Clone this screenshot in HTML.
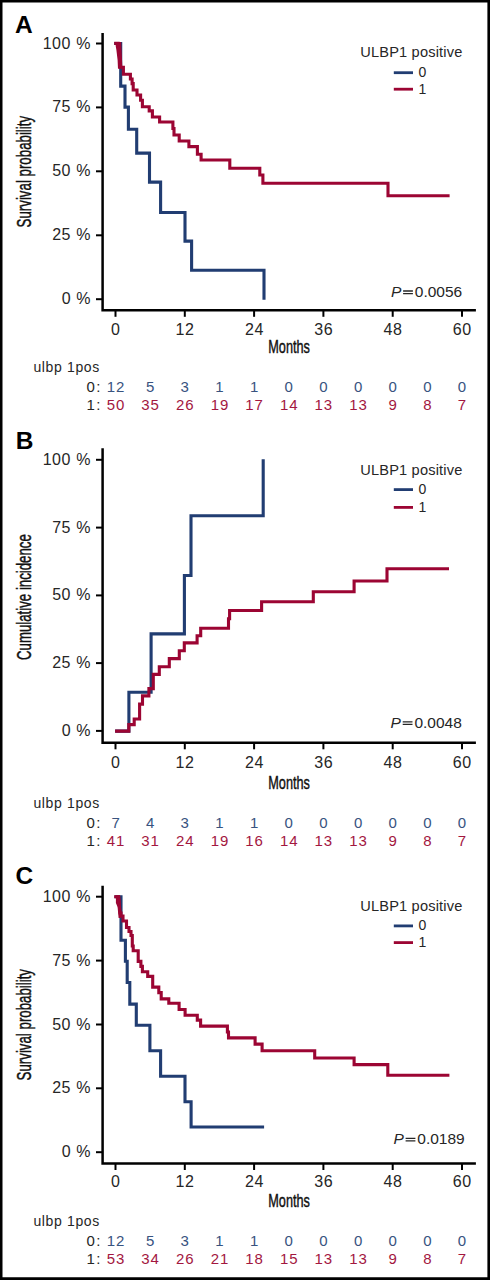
<!DOCTYPE html>
<html><head><meta charset="utf-8"><style>
html,body{margin:0;padding:0;background:#fff;}
svg{display:block;}
text{font-family:"Liberation Sans", sans-serif;}
</style></head><body>
<svg width="490" height="1280" viewBox="0 0 490 1280">
<rect x="0" y="0" width="490" height="1280" fill="#fff"/>
<path d="M0,0 H490 V1280 H0 Z M2.5,2.5 V1277.3 H487.4 V2.5 Z" fill="#000" fill-rule="evenodd"/>
<g id="panelA">
<text x="14.9" y="32.6" font-size="24.5" font-weight="bold" fill="#000">A</text>
<path d="M102.6,33.0 V311.55 M101.35,310.3 H475.9" stroke="#000" stroke-width="2.5" fill="none"/>
<path d="M96,43.5 H102" stroke="#000" stroke-width="2" fill="none"/>
<path d="M96,107.4 H102" stroke="#000" stroke-width="2" fill="none"/>
<path d="M96,171.3 H102" stroke="#000" stroke-width="2" fill="none"/>
<path d="M96,235.3 H102" stroke="#000" stroke-width="2" fill="none"/>
<path d="M96,299.2 H102" stroke="#000" stroke-width="2" fill="none"/>
<path d="M115.5,310.3 V316.8" stroke="#000" stroke-width="2" fill="none"/>
<path d="M184.8,310.3 V316.8" stroke="#000" stroke-width="2" fill="none"/>
<path d="M254.1,310.3 V316.8" stroke="#000" stroke-width="2" fill="none"/>
<path d="M323.4,310.3 V316.8" stroke="#000" stroke-width="2" fill="none"/>
<path d="M392.7,310.3 V316.8" stroke="#000" stroke-width="2" fill="none"/>
<path d="M462.0,310.3 V316.8" stroke="#000" stroke-width="2" fill="none"/>
<text x="91.0" y="48.5" font-size="16" text-anchor="end" fill="#262626" letter-spacing="0.6">100 %</text>
<text x="91.0" y="112.4" font-size="16" text-anchor="end" fill="#262626" letter-spacing="0.6">75 %</text>
<text x="91.0" y="176.3" font-size="16" text-anchor="end" fill="#262626" letter-spacing="0.6">50 %</text>
<text x="91.0" y="240.3" font-size="16" text-anchor="end" fill="#262626" letter-spacing="0.6">25 %</text>
<text x="91.0" y="304.2" font-size="16" text-anchor="end" fill="#262626" letter-spacing="0.6">0 %</text>
<text x="115.8" y="334.5" font-size="16" text-anchor="middle" fill="#262626" letter-spacing="0.6">0</text>
<text x="185.1" y="334.5" font-size="16" text-anchor="middle" fill="#262626" letter-spacing="0.6">12</text>
<text x="254.4" y="334.5" font-size="16" text-anchor="middle" fill="#262626" letter-spacing="0.6">24</text>
<text x="323.7" y="334.5" font-size="16" text-anchor="middle" fill="#262626" letter-spacing="0.6">36</text>
<text x="393.0" y="334.5" font-size="16" text-anchor="middle" fill="#262626" letter-spacing="0.6">48</text>
<text x="462.3" y="334.5" font-size="16" text-anchor="middle" fill="#262626" letter-spacing="0.6">60</text>
<text x="268.3" y="353.0" font-size="19" fill="#111" stroke="#111" stroke-width="0.45" textLength="41.6" lengthAdjust="spacingAndGlyphs">Months</text>
<text transform="translate(30.6,227.4) rotate(-90)" x="0" y="0" font-size="20" fill="#111" stroke="#111" stroke-width="0.45" textLength="111.5" lengthAdjust="spacingAndGlyphs">Survival probability</text>
<text x="360.3" y="56.7" font-size="14.6" fill="#262626" letter-spacing="0.17">ULBP1 positive</text>
<path d="M393.8,72.7 H413" stroke="#213d72" stroke-width="2.8"/>
<path d="M393.8,89.2 H413" stroke="#9c0533" stroke-width="2.8"/>
<text x="418.5" y="77.0" font-size="14" fill="#262626">0</text>
<text x="418.5" y="93.7" font-size="14" fill="#262626">1</text>
<text x="462.2" y="297.1" font-size="15.5" text-anchor="end" fill="#262626">0.0056</text>
<text x="391.0" y="297.1" font-size="15.5" font-style="italic" fill="#262626">P</text>
<path d="M403.1,291.0 H412.9 M403.1,293.6 H412.9" stroke="#262626" stroke-width="1.3"/>
<path d="M114.2,43.5 H120.7 V86.1 H125 V107.1 H128.4 V129.2 H136.7 V153.1 H149.5 V182.1 H160.6 V212.5 H185 V241.1 H191.6 V270.2 H264 V299.7" stroke="#213d72" stroke-width="3.1" fill="none" stroke-linecap="butt" stroke-linejoin="miter"/>
<path d="M114.2,43.4 H118.3 L120.5,67.2 H123.4 V74.2 H130.4 V79 H132.1 V83.6 H133.2 V90 H137 V95 H140.6 V100.3 H142.4 V106.7 H149.2 V110.9 H152.4 V117 H159.6 V122 H172.9 V128.5 H174 V135 H179.2 V141 H188.9 V146.6 H197.4 V154.2 H201.1 V160 H229.8 V168.3 H259.8 V175 H262.9 V183.3 H388 V195.8 H449.6" stroke="#9c0533" stroke-width="3.1" fill="none" stroke-linecap="butt" stroke-linejoin="miter"/>
<polygon points="115.7,42 121.2,42 122.3,66 121.5,68.8 118,68.8 117.6,60 116.4,50 115.7,46" fill="#9c0533"/>
<text x="33.4" y="371.8" font-size="14" fill="#262626" letter-spacing="0.65">ulbp 1pos</text>
<text x="86.6" y="392.4" font-size="15" fill="#262626" letter-spacing="1.2">0:</text>
<text x="86.6" y="409.5" font-size="15" fill="#262626" letter-spacing="1.2">1:</text>
<text x="116.0" y="392.4" font-size="15" text-anchor="middle" fill="#38537f" letter-spacing="0.9">12</text>
<text x="116.0" y="409.5" font-size="15" text-anchor="middle" fill="#a3173f" letter-spacing="0.9">50</text>
<text x="150.6" y="392.4" font-size="15" text-anchor="middle" fill="#38537f" letter-spacing="0.9">5</text>
<text x="150.6" y="409.5" font-size="15" text-anchor="middle" fill="#a3173f" letter-spacing="0.9">35</text>
<text x="185.2" y="392.4" font-size="15" text-anchor="middle" fill="#38537f" letter-spacing="0.9">3</text>
<text x="185.2" y="409.5" font-size="15" text-anchor="middle" fill="#a3173f" letter-spacing="0.9">26</text>
<text x="219.9" y="392.4" font-size="15" text-anchor="middle" fill="#38537f" letter-spacing="0.9">1</text>
<text x="219.9" y="409.5" font-size="15" text-anchor="middle" fill="#a3173f" letter-spacing="0.9">19</text>
<text x="254.6" y="392.4" font-size="15" text-anchor="middle" fill="#38537f" letter-spacing="0.9">1</text>
<text x="254.6" y="409.5" font-size="15" text-anchor="middle" fill="#a3173f" letter-spacing="0.9">17</text>
<text x="289.2" y="392.4" font-size="15" text-anchor="middle" fill="#38537f" letter-spacing="0.9">0</text>
<text x="289.2" y="409.5" font-size="15" text-anchor="middle" fill="#a3173f" letter-spacing="0.9">14</text>
<text x="323.8" y="392.4" font-size="15" text-anchor="middle" fill="#38537f" letter-spacing="0.9">0</text>
<text x="323.8" y="409.5" font-size="15" text-anchor="middle" fill="#a3173f" letter-spacing="0.9">13</text>
<text x="358.5" y="392.4" font-size="15" text-anchor="middle" fill="#38537f" letter-spacing="0.9">0</text>
<text x="358.5" y="409.5" font-size="15" text-anchor="middle" fill="#a3173f" letter-spacing="0.9">13</text>
<text x="393.2" y="392.4" font-size="15" text-anchor="middle" fill="#38537f" letter-spacing="0.9">0</text>
<text x="393.2" y="409.5" font-size="15" text-anchor="middle" fill="#a3173f" letter-spacing="0.9">9</text>
<text x="427.8" y="392.4" font-size="15" text-anchor="middle" fill="#38537f" letter-spacing="0.9">0</text>
<text x="427.8" y="409.5" font-size="15" text-anchor="middle" fill="#a3173f" letter-spacing="0.9">8</text>
<text x="462.4" y="392.4" font-size="15" text-anchor="middle" fill="#38537f" letter-spacing="0.9">0</text>
<text x="462.4" y="409.5" font-size="15" text-anchor="middle" fill="#a3173f" letter-spacing="0.9">7</text>
</g>
<g id="panelB">
<text x="15.7" y="448.7" font-size="24.5" font-weight="bold" fill="#000">B</text>
<path d="M102.6,448.2 V744.05 M101.35,742.8 H475.9" stroke="#000" stroke-width="2.5" fill="none"/>
<path d="M96,459.8 H102" stroke="#000" stroke-width="2" fill="none"/>
<path d="M96,527.6 H102" stroke="#000" stroke-width="2" fill="none"/>
<path d="M96,595.4 H102" stroke="#000" stroke-width="2" fill="none"/>
<path d="M96,663.1 H102" stroke="#000" stroke-width="2" fill="none"/>
<path d="M96,730.9 H102" stroke="#000" stroke-width="2" fill="none"/>
<path d="M115.5,742.8 V749.3" stroke="#000" stroke-width="2" fill="none"/>
<path d="M184.8,742.8 V749.3" stroke="#000" stroke-width="2" fill="none"/>
<path d="M254.1,742.8 V749.3" stroke="#000" stroke-width="2" fill="none"/>
<path d="M323.4,742.8 V749.3" stroke="#000" stroke-width="2" fill="none"/>
<path d="M392.7,742.8 V749.3" stroke="#000" stroke-width="2" fill="none"/>
<path d="M462.0,742.8 V749.3" stroke="#000" stroke-width="2" fill="none"/>
<text x="91.0" y="464.8" font-size="16" text-anchor="end" fill="#262626" letter-spacing="0.6">100 %</text>
<text x="91.0" y="532.6" font-size="16" text-anchor="end" fill="#262626" letter-spacing="0.6">75 %</text>
<text x="91.0" y="600.4" font-size="16" text-anchor="end" fill="#262626" letter-spacing="0.6">50 %</text>
<text x="91.0" y="668.1" font-size="16" text-anchor="end" fill="#262626" letter-spacing="0.6">25 %</text>
<text x="91.0" y="735.9" font-size="16" text-anchor="end" fill="#262626" letter-spacing="0.6">0 %</text>
<text x="115.8" y="768.1" font-size="16" text-anchor="middle" fill="#262626" letter-spacing="0.6">0</text>
<text x="185.1" y="768.1" font-size="16" text-anchor="middle" fill="#262626" letter-spacing="0.6">12</text>
<text x="254.4" y="768.1" font-size="16" text-anchor="middle" fill="#262626" letter-spacing="0.6">24</text>
<text x="323.7" y="768.1" font-size="16" text-anchor="middle" fill="#262626" letter-spacing="0.6">36</text>
<text x="393.0" y="768.1" font-size="16" text-anchor="middle" fill="#262626" letter-spacing="0.6">48</text>
<text x="462.3" y="768.1" font-size="16" text-anchor="middle" fill="#262626" letter-spacing="0.6">60</text>
<text x="268.3" y="789.3" font-size="19" fill="#111" stroke="#111" stroke-width="0.45" textLength="41.6" lengthAdjust="spacingAndGlyphs">Months</text>
<text transform="translate(30.6,660.0) rotate(-90)" x="0" y="0" font-size="20" fill="#111" stroke="#111" stroke-width="0.45" textLength="125.8" lengthAdjust="spacingAndGlyphs">Cumulative incidence</text>
<text x="360.3" y="474.5" font-size="14.6" fill="#262626" letter-spacing="0.17">ULBP1 positive</text>
<path d="M393.8,489.6 H413" stroke="#213d72" stroke-width="2.8"/>
<path d="M393.8,507.4 H413" stroke="#9c0533" stroke-width="2.8"/>
<text x="418.5" y="493.9" font-size="14" fill="#262626">0</text>
<text x="418.5" y="511.9" font-size="14" fill="#262626">1</text>
<text x="461.8" y="727.9" font-size="15.5" text-anchor="end" fill="#262626">0.0048</text>
<text x="390.6" y="727.9" font-size="15.5" font-style="italic" fill="#262626">P</text>
<path d="M402.7,721.8 H412.5 M402.7,724.4 H412.5" stroke="#262626" stroke-width="1.3"/>
<path d="M115.1,731.1 H128.9 V692.3 H151.1 V633.9 H184.4 V575.5 H191 V515.7 H263.2 V459.2" stroke="#213d72" stroke-width="3.1" fill="none" stroke-linecap="butt" stroke-linejoin="miter"/>
<path d="M115.1,731.1 H128.8 V724.6 H134.2 V719 H139.6 V704.1 H142.5 V695.9 H148.9 V688.6 H153.3 V674.4 H159.3 V666.8 H169.3 V658.6 H179.3 V650.7 H184.3 V642.9 H197.1 V635.7 H200.7 V628.3 H228.5 V618.7 H229.6 V610.5 H261.6 V601.7 H313.3 V591.8 H354.1 V581 H387 V568.7 H449" stroke="#9c0533" stroke-width="3.1" fill="none" stroke-linecap="butt" stroke-linejoin="miter"/>
<text x="33.4" y="808.3" font-size="14" fill="#262626" letter-spacing="0.65">ulbp 1pos</text>
<text x="86.6" y="828.1" font-size="15" fill="#262626" letter-spacing="1.2">0:</text>
<text x="86.6" y="846.0" font-size="15" fill="#262626" letter-spacing="1.2">1:</text>
<text x="116.0" y="828.1" font-size="15" text-anchor="middle" fill="#38537f" letter-spacing="0.9">7</text>
<text x="116.0" y="846.0" font-size="15" text-anchor="middle" fill="#a3173f" letter-spacing="0.9">41</text>
<text x="150.6" y="828.1" font-size="15" text-anchor="middle" fill="#38537f" letter-spacing="0.9">4</text>
<text x="150.6" y="846.0" font-size="15" text-anchor="middle" fill="#a3173f" letter-spacing="0.9">31</text>
<text x="185.2" y="828.1" font-size="15" text-anchor="middle" fill="#38537f" letter-spacing="0.9">3</text>
<text x="185.2" y="846.0" font-size="15" text-anchor="middle" fill="#a3173f" letter-spacing="0.9">24</text>
<text x="219.9" y="828.1" font-size="15" text-anchor="middle" fill="#38537f" letter-spacing="0.9">1</text>
<text x="219.9" y="846.0" font-size="15" text-anchor="middle" fill="#a3173f" letter-spacing="0.9">19</text>
<text x="254.6" y="828.1" font-size="15" text-anchor="middle" fill="#38537f" letter-spacing="0.9">1</text>
<text x="254.6" y="846.0" font-size="15" text-anchor="middle" fill="#a3173f" letter-spacing="0.9">16</text>
<text x="289.2" y="828.1" font-size="15" text-anchor="middle" fill="#38537f" letter-spacing="0.9">0</text>
<text x="289.2" y="846.0" font-size="15" text-anchor="middle" fill="#a3173f" letter-spacing="0.9">14</text>
<text x="323.8" y="828.1" font-size="15" text-anchor="middle" fill="#38537f" letter-spacing="0.9">0</text>
<text x="323.8" y="846.0" font-size="15" text-anchor="middle" fill="#a3173f" letter-spacing="0.9">13</text>
<text x="358.5" y="828.1" font-size="15" text-anchor="middle" fill="#38537f" letter-spacing="0.9">0</text>
<text x="358.5" y="846.0" font-size="15" text-anchor="middle" fill="#a3173f" letter-spacing="0.9">13</text>
<text x="393.2" y="828.1" font-size="15" text-anchor="middle" fill="#38537f" letter-spacing="0.9">0</text>
<text x="393.2" y="846.0" font-size="15" text-anchor="middle" fill="#a3173f" letter-spacing="0.9">9</text>
<text x="427.8" y="828.1" font-size="15" text-anchor="middle" fill="#38537f" letter-spacing="0.9">0</text>
<text x="427.8" y="846.0" font-size="15" text-anchor="middle" fill="#a3173f" letter-spacing="0.9">8</text>
<text x="462.4" y="828.1" font-size="15" text-anchor="middle" fill="#38537f" letter-spacing="0.9">0</text>
<text x="462.4" y="846.0" font-size="15" text-anchor="middle" fill="#a3173f" letter-spacing="0.9">7</text>
</g>
<g id="panelC">
<text x="15.5" y="884.4" font-size="24.5" font-weight="bold" fill="#000">C</text>
<path d="M102.6,885.8 V1164.75 M101.35,1163.5 H475.9" stroke="#000" stroke-width="2.5" fill="none"/>
<path d="M96,896.7 H102" stroke="#000" stroke-width="2" fill="none"/>
<path d="M96,960.6 H102" stroke="#000" stroke-width="2" fill="none"/>
<path d="M96,1024.5 H102" stroke="#000" stroke-width="2" fill="none"/>
<path d="M96,1088.3 H102" stroke="#000" stroke-width="2" fill="none"/>
<path d="M96,1152.2 H102" stroke="#000" stroke-width="2" fill="none"/>
<path d="M115.5,1163.5 V1170.0" stroke="#000" stroke-width="2" fill="none"/>
<path d="M184.8,1163.5 V1170.0" stroke="#000" stroke-width="2" fill="none"/>
<path d="M254.1,1163.5 V1170.0" stroke="#000" stroke-width="2" fill="none"/>
<path d="M323.4,1163.5 V1170.0" stroke="#000" stroke-width="2" fill="none"/>
<path d="M392.7,1163.5 V1170.0" stroke="#000" stroke-width="2" fill="none"/>
<path d="M462.0,1163.5 V1170.0" stroke="#000" stroke-width="2" fill="none"/>
<text x="91.0" y="901.7" font-size="16" text-anchor="end" fill="#262626" letter-spacing="0.6">100 %</text>
<text x="91.0" y="965.6" font-size="16" text-anchor="end" fill="#262626" letter-spacing="0.6">75 %</text>
<text x="91.0" y="1029.5" font-size="16" text-anchor="end" fill="#262626" letter-spacing="0.6">50 %</text>
<text x="91.0" y="1093.3" font-size="16" text-anchor="end" fill="#262626" letter-spacing="0.6">25 %</text>
<text x="91.0" y="1157.2" font-size="16" text-anchor="end" fill="#262626" letter-spacing="0.6">0 %</text>
<text x="115.8" y="1187.4" font-size="16" text-anchor="middle" fill="#262626" letter-spacing="0.6">0</text>
<text x="185.1" y="1187.4" font-size="16" text-anchor="middle" fill="#262626" letter-spacing="0.6">12</text>
<text x="254.4" y="1187.4" font-size="16" text-anchor="middle" fill="#262626" letter-spacing="0.6">24</text>
<text x="323.7" y="1187.4" font-size="16" text-anchor="middle" fill="#262626" letter-spacing="0.6">36</text>
<text x="393.0" y="1187.4" font-size="16" text-anchor="middle" fill="#262626" letter-spacing="0.6">48</text>
<text x="462.3" y="1187.4" font-size="16" text-anchor="middle" fill="#262626" letter-spacing="0.6">60</text>
<text x="268.3" y="1207.1" font-size="19" fill="#111" stroke="#111" stroke-width="0.45" textLength="41.6" lengthAdjust="spacingAndGlyphs">Months</text>
<text transform="translate(30.6,1080.4) rotate(-90)" x="0" y="0" font-size="20" fill="#111" stroke="#111" stroke-width="0.45" textLength="111.4" lengthAdjust="spacingAndGlyphs">Survival probability</text>
<text x="360.3" y="910.8" font-size="14.6" fill="#262626" letter-spacing="0.17">ULBP1 positive</text>
<path d="M393.8,925.9 H413" stroke="#213d72" stroke-width="2.8"/>
<path d="M393.8,942.6 H413" stroke="#9c0533" stroke-width="2.8"/>
<text x="418.5" y="930.2" font-size="14" fill="#262626">0</text>
<text x="418.5" y="947.1" font-size="14" fill="#262626">1</text>
<text x="464.7" y="1144.4" font-size="15.5" text-anchor="end" fill="#262626">0.0189</text>
<text x="393.5" y="1144.4" font-size="15.5" font-style="italic" fill="#262626">P</text>
<path d="M405.6,1138.3 H415.4 M405.6,1140.9 H415.4" stroke="#262626" stroke-width="1.3"/>
<path d="M114.5,896.8 H121 V940.3 H125.4 V961.2 H127.2 V982.5 H129.8 V1004.1 H136.3 V1025.3 H149.9 V1050.8 H160.6 V1076.3 H185 V1101.8 H191.1 V1127 H264.1" stroke="#213d72" stroke-width="3.1" fill="none" stroke-linecap="butt" stroke-linejoin="miter"/>
<path d="M114.2,896.8 H118.5 L120,913 H121 V916 H123 V921 H126.5 V927.5 H129 V931.5 H131 V935.5 H132.3 V946 H133.2 V950.7 H138.2 V961.4 H140.9 V966.4 H142.4 V971.8 H147.7 V976.4 H152.7 V987.1 H158.8 V992.6 H161.2 V998.9 H168.8 V1003.3 H179.1 V1009.5 H185.1 V1015.2 H197.3 V1020.1 H200.6 V1026.1 H227.4 V1032 H228.5 V1037.9 H255.1 V1044.1 H262.1 V1050.8 H314.7 V1058 H354.1 V1064.6 H387.8 V1075.3 H449.4" stroke="#9c0533" stroke-width="3.1" fill="none" stroke-linecap="butt" stroke-linejoin="miter"/>
<polygon points="115.9,895.3 120.2,895.3 121.6,914 120.5,918 118.6,918 117.6,907 115.9,903" fill="#9c0533"/>
<text x="33.4" y="1226.0" font-size="14" fill="#262626" letter-spacing="0.65">ulbp 1pos</text>
<text x="86.6" y="1245.7" font-size="15" fill="#262626" letter-spacing="1.2">0:</text>
<text x="86.6" y="1263.6" font-size="15" fill="#262626" letter-spacing="1.2">1:</text>
<text x="116.0" y="1245.7" font-size="15" text-anchor="middle" fill="#38537f" letter-spacing="0.9">12</text>
<text x="116.0" y="1263.6" font-size="15" text-anchor="middle" fill="#a3173f" letter-spacing="0.9">53</text>
<text x="150.6" y="1245.7" font-size="15" text-anchor="middle" fill="#38537f" letter-spacing="0.9">5</text>
<text x="150.6" y="1263.6" font-size="15" text-anchor="middle" fill="#a3173f" letter-spacing="0.9">34</text>
<text x="185.2" y="1245.7" font-size="15" text-anchor="middle" fill="#38537f" letter-spacing="0.9">3</text>
<text x="185.2" y="1263.6" font-size="15" text-anchor="middle" fill="#a3173f" letter-spacing="0.9">26</text>
<text x="219.9" y="1245.7" font-size="15" text-anchor="middle" fill="#38537f" letter-spacing="0.9">1</text>
<text x="219.9" y="1263.6" font-size="15" text-anchor="middle" fill="#a3173f" letter-spacing="0.9">21</text>
<text x="254.6" y="1245.7" font-size="15" text-anchor="middle" fill="#38537f" letter-spacing="0.9">1</text>
<text x="254.6" y="1263.6" font-size="15" text-anchor="middle" fill="#a3173f" letter-spacing="0.9">18</text>
<text x="289.2" y="1245.7" font-size="15" text-anchor="middle" fill="#38537f" letter-spacing="0.9">0</text>
<text x="289.2" y="1263.6" font-size="15" text-anchor="middle" fill="#a3173f" letter-spacing="0.9">15</text>
<text x="323.8" y="1245.7" font-size="15" text-anchor="middle" fill="#38537f" letter-spacing="0.9">0</text>
<text x="323.8" y="1263.6" font-size="15" text-anchor="middle" fill="#a3173f" letter-spacing="0.9">13</text>
<text x="358.5" y="1245.7" font-size="15" text-anchor="middle" fill="#38537f" letter-spacing="0.9">0</text>
<text x="358.5" y="1263.6" font-size="15" text-anchor="middle" fill="#a3173f" letter-spacing="0.9">13</text>
<text x="393.2" y="1245.7" font-size="15" text-anchor="middle" fill="#38537f" letter-spacing="0.9">0</text>
<text x="393.2" y="1263.6" font-size="15" text-anchor="middle" fill="#a3173f" letter-spacing="0.9">9</text>
<text x="427.8" y="1245.7" font-size="15" text-anchor="middle" fill="#38537f" letter-spacing="0.9">0</text>
<text x="427.8" y="1263.6" font-size="15" text-anchor="middle" fill="#a3173f" letter-spacing="0.9">8</text>
<text x="462.4" y="1245.7" font-size="15" text-anchor="middle" fill="#38537f" letter-spacing="0.9">0</text>
<text x="462.4" y="1263.6" font-size="15" text-anchor="middle" fill="#a3173f" letter-spacing="0.9">7</text>
</g>
</svg>
</body></html>
